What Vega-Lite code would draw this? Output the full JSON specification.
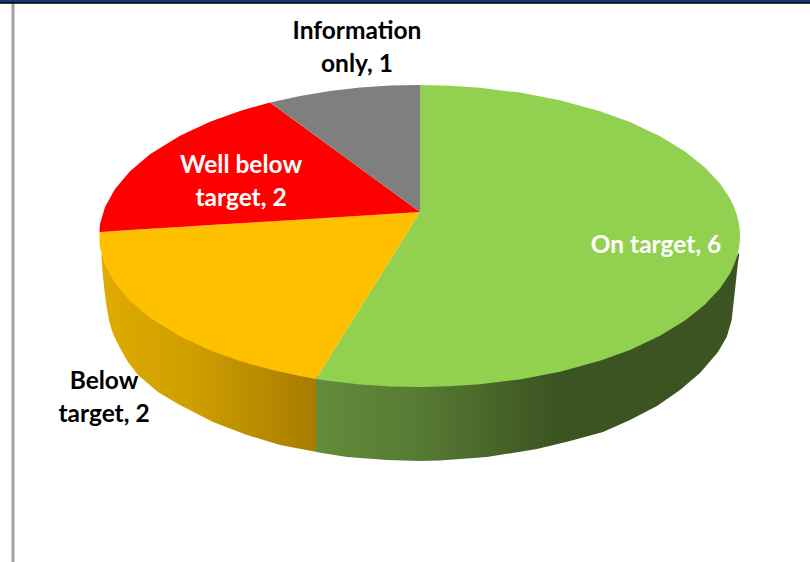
{"$schema":"https://vega.github.io/schema/vega-lite/v6.json","width":810,"height":562,"autosize":"none","padding":0,"background":"white","config":{"view":{"stroke":null}},
"datasets":{
"tops":[
{"slice":"On target","x":316,"y":379,"y2":379},{"slice":"On target","x":330,"y":356.5,"y2":381},{"slice":"On target","x":360,"y":308.3,"y2":384.4},{"slice":"On target","x":390,"y":260.2,"y2":386.4},{"slice":"On target","x":419.9,"y":212,"y2":387},{"slice":"On target","x":420,"y":85,"y2":387},{"slice":"On target","x":450,"y":85.7,"y2":386.3},{"slice":"On target","x":480,"y":87.7,"y2":384.3},{"slice":"On target","x":520,"y":92.6,"y2":379.4},{"slice":"On target","x":560,"y":100.3,"y2":371.7},{"slice":"On target","x":600,"y":111.2,"y2":360.8},{"slice":"On target","x":630,"y":122.1,"y2":349.9},{"slice":"On target","x":660,"y":136.2,"y2":335.8},{"slice":"On target","x":685,"y":151.4,"y2":320.6},{"slice":"On target","x":705,"y":167.4,"y2":304.6},{"slice":"On target","x":720,"y":183.5,"y2":288.5},{"slice":"On target","x":730,"y":198.6,"y2":273.4},{"slice":"On target","x":734,"y":206.9,"y2":265.1},{"slice":"On target","x":737,"y":215.4,"y2":256.6},{"slice":"On target","x":739,"y":224.1,"y2":247.9},{"slice":"On target","x":739.8,"y":230.7,"y2":241.3},{"slice":"On target","x":740,"y":236,"y2":236},
{"slice":"Below target","x":99.5,"y":232,"y2":240},{"slice":"Below target","x":100,"y":232,"y2":247.9},{"slice":"Below target","x":105,"y":231.7,"y2":265.1},{"slice":"Below target","x":115,"y":231,"y2":283.1},{"slice":"Below target","x":130,"y":230.1,"y2":300.8},{"slice":"Below target","x":150,"y":228.8,"y2":317.7},{"slice":"Below target","x":180,"y":227,"y2":336.3},{"slice":"Below target","x":210,"y":225.1,"y2":350.3},{"slice":"Below target","x":240,"y":223.2,"y2":361.1},{"slice":"Below target","x":270,"y":221.4,"y2":369.6},{"slice":"Below target","x":300,"y":219.5,"y2":376.1},{"slice":"Below target","x":316,"y":218.5,"y2":379},{"slice":"Below target","x":420,"y":212,"y2":212},
{"slice":"Well below target","x":99.5,"y":232,"y2":232},{"slice":"Well below target","x":100,"y":224.1,"y2":232},{"slice":"Well below target","x":105,"y":206.9,"y2":231.7},{"slice":"Well below target","x":115,"y":188.9,"y2":231},{"slice":"Well below target","x":130,"y":171.2,"y2":230.1},{"slice":"Well below target","x":150,"y":154.3,"y2":228.8},{"slice":"Well below target","x":180,"y":135.7,"y2":227},{"slice":"Well below target","x":210,"y":121.7,"y2":225.1},{"slice":"Well below target","x":240,"y":110.9,"y2":223.2},{"slice":"Well below target","x":270,"y":102.4,"y2":221.4},{"slice":"Well below target","x":420,"y":212,"y2":212},
{"slice":"Information only","x":270,"y":102.4,"y2":102.4},{"slice":"Information only","x":300,"y":95.9,"y2":124.3},{"slice":"Information only","x":330,"y":91,"y2":146.2},{"slice":"Information only","x":360,"y":87.6,"y2":168.2},{"slice":"Information only","x":390,"y":85.6,"y2":190.1},{"slice":"Information only","x":420,"y":85,"y2":212}
],
"sideBelow":[
{"x":101.5,"y":253,"y2":258},{"x":103,"y":257,"y2":277},{"x":105,"y":262,"y2":295},{"x":106.7,"y":265,"y2":307},{"x":109,"y":270,"y2":320},{"x":111.7,"y":275,"y2":330},{"x":115,"y":280,"y2":338},{"x":120,"y":287,"y2":348},{"x":128,"y":296,"y2":362},{"x":138,"y":304,"y2":375},{"x":158,"y":320,"y2":392},{"x":178,"y":333,"y2":404},{"x":213,"y":348,"y2":422},{"x":247,"y":360,"y2":435},{"x":280,"y":369,"y2":445},{"x":317,"y":376,"y2":452}
],
"sideOn":[
{"x":316,"y":376,"y2":452},{"x":347,"y":379,"y2":457},{"x":387,"y":383,"y2":460},{"x":420,"y":384,"y2":461},{"x":440,"y":384,"y2":460.5},{"x":487,"y":381,"y2":457},{"x":537,"y":374,"y2":449},{"x":570,"y":367,"y2":441},{"x":603,"y":355,"y2":432},{"x":630,"y":346,"y2":420},{"x":657,"y":335,"y2":406},{"x":680,"y":322,"y2":390},{"x":700,"y":306,"y2":373},{"x":718,"y":287,"y2":352},{"x":726.7,"y":275,"y2":337},{"x":731.7,"y":268,"y2":320},{"x":735,"y":259,"y2":290},{"x":738,"y":254,"y2":262},{"x":739,"y":253,"y2":256}
],
"labels":[
{"label":"On target, 6","value":6,"x":656,"y":246,"tone":"light"},
{"label":"Below\ntarget, 2","value":2,"x":104,"y":382,"tone":"dark"},
{"label":"Well below\ntarget, 2","value":2,"x":241,"y":166,"tone":"light"},
{"label":"Information\nonly, 1","value":1,"x":357,"y":32,"tone":"dark"}
],
"frame":[{"part":"left","x":13,"y":3,"y2":562}],
"bars":[{"part":"black","x":0,"x2":810,"y":2.6},{"part":"navy","x":0,"x2":810,"y":1}]
},
"encoding":{
"x":{"field":"x","type":"quantitative","scale":{"domain":[0,810],"nice":false,"zero":false},"axis":null},
"y":{"field":"y","type":"quantitative","scale":{"domain":[562,0],"nice":false,"zero":false},"axis":null}
},
"resolve":{"scale":{"color":"independent"}},
"layer":[
{"data":{"name":"sideBelow"},"mark":{"type":"area","color":{"gradient":"linear","x1":0,"y1":0,"x2":1,"y2":0,"stops":[{"offset":0,"color":"#DFAB00"},{"offset":0.4,"color":"#D09F00"},{"offset":1,"color":"#A67C00"}]}},"encoding":{"y2":{"field":"y2"}}},
{"data":{"name":"sideOn"},"mark":{"type":"area","color":{"gradient":"linear","x1":0,"y1":0,"x2":1,"y2":0,"stops":[{"offset":0,"color":"#628C3B"},{"offset":0.25,"color":"#567A33"},{"offset":0.56,"color":"#3C5422"},{"offset":1,"color":"#3C5422"}]}},"encoding":{"y2":{"field":"y2"}}},
{"data":{"name":"tops"},"mark":{"type":"area"},"encoding":{"y2":{"field":"y2"},"color":{"field":"slice","type":"nominal","legend":null,"scale":{"domain":["On target","Below target","Well below target","Information only"],"range":["#92D050","#FFC000","#FF0000","#7F7F7F"]}}}},
{"data":{"name":"frame"},"mark":{"type":"rule","color":"#A0A0A0","strokeWidth":3},"encoding":{"y2":{"field":"y2"}}},
{"data":{"name":"bars"},"mark":{"type":"rule","strokeWidth":2.5},"encoding":{"x2":{"field":"x2"},"color":{"field":"part","type":"nominal","legend":null,"scale":{"domain":["navy","black"],"range":["#0F3A73","#000000"]}}}},
{"data":{"name":"labels"},"mark":{"type":"text","font":"Lato","fontWeight":"bold","fontSize":24.5,"lineHeight":33,"align":"center","baseline":"middle","lineBreak":"\n"},"encoding":{"text":{"field":"label"},"color":{"field":"tone","type":"nominal","legend":null,"scale":{"domain":["light","dark"],"range":["#FFFFFF","#000000"]}}}}
]}
